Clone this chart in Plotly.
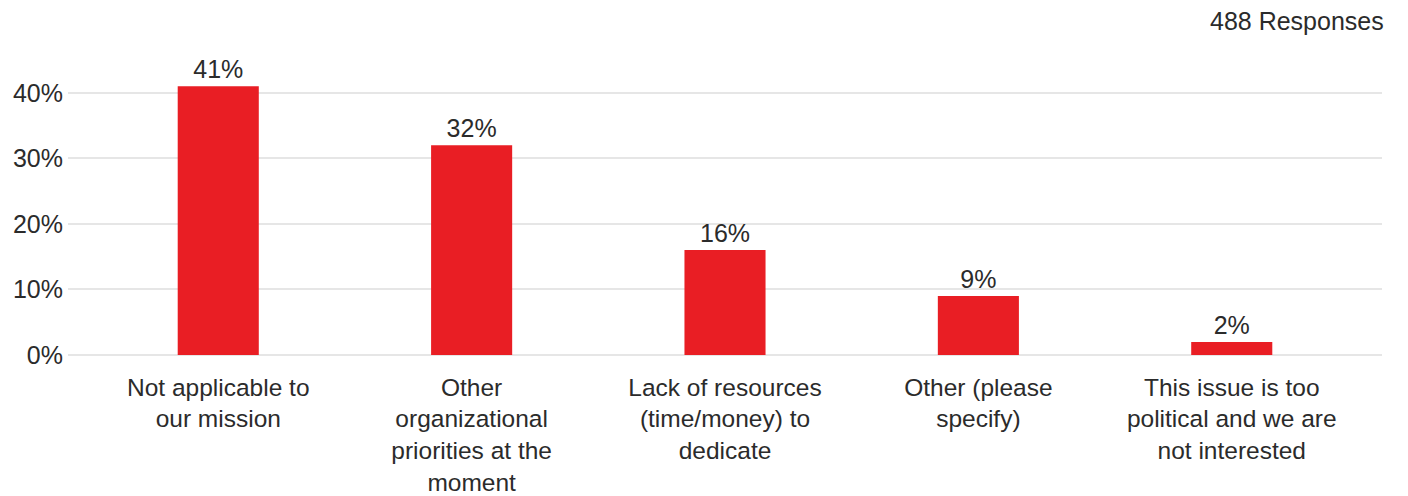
import plotly.graph_objects as go

categories = [
    "Not applicable to<br>our mission",
    "Other<br>organizational<br>priorities at the<br>moment",
    "Lack of resources<br>(time/money) to<br>dedicate",
    "Other (please<br>specify)",
    "This issue is too<br>political and we are<br>not interested",
]
values = [41, 32, 16, 9, 2]
value_labels = ["41%", "32%", "16%", "9%", "2%"]
y_tick_values = [0, 10, 20, 30, 40]
y_tick_labels = ["0%", "10%", "20%", "30%", "40%"]
response_note = "488 Responses"

FONT = "Liberation Sans, Arial, sans-serif"
TXT = "#2b2b2b"
FS = 25

fig = go.Figure(
    go.Bar(
        x=categories,
        y=values,
        text=value_labels,
        textposition="outside",
        textfont=dict(family=FONT, size=FS, color=TXT),
        marker=dict(color="#E91E24", line=dict(width=0)),
        width=0.32,
        cliponaxis=False,
    )
)

fig.update_layout(
    width=1408,
    height=496,
    margin=dict(l=60, r=34, t=52, b=149),
    plot_bgcolor="white",
    paper_bgcolor="white",
    showlegend=False,
    font=dict(family=FONT, size=FS, color=TXT),
    annotations=[
        dict(
            text=response_note,
            xref="paper", yref="paper",
            x=1.003, y=1.0,
            xanchor="right", yanchor="bottom",
            yshift=23,
            showarrow=False,
            font=dict(family=FONT, size=FS, color=TXT),
        )
    ],
)

fig.update_xaxes(
    range=[-0.593, 4.593],
    showgrid=False,
    showline=False,
    ticks="",
    automargin=False,
    tickfont=dict(family=FONT, size=24.5, color=TXT),
    ticklabelstandoff=15,
)

fig.update_yaxes(
    range=[0, 45],
    tickmode="array",
    tickvals=y_tick_values,
    ticktext=y_tick_labels,
    showgrid=True,
    gridcolor="#e6e6e6",
    gridwidth=2,
    zeroline=True,
    zerolinecolor="#e6e6e6",
    zerolinewidth=2,
    showline=False,
    ticks="",
    automargin=False,
    tickfont=dict(family=FONT, size=FS, color=TXT),
    ticklabelstandoff=4,
)

fig.write_html("out.html")
